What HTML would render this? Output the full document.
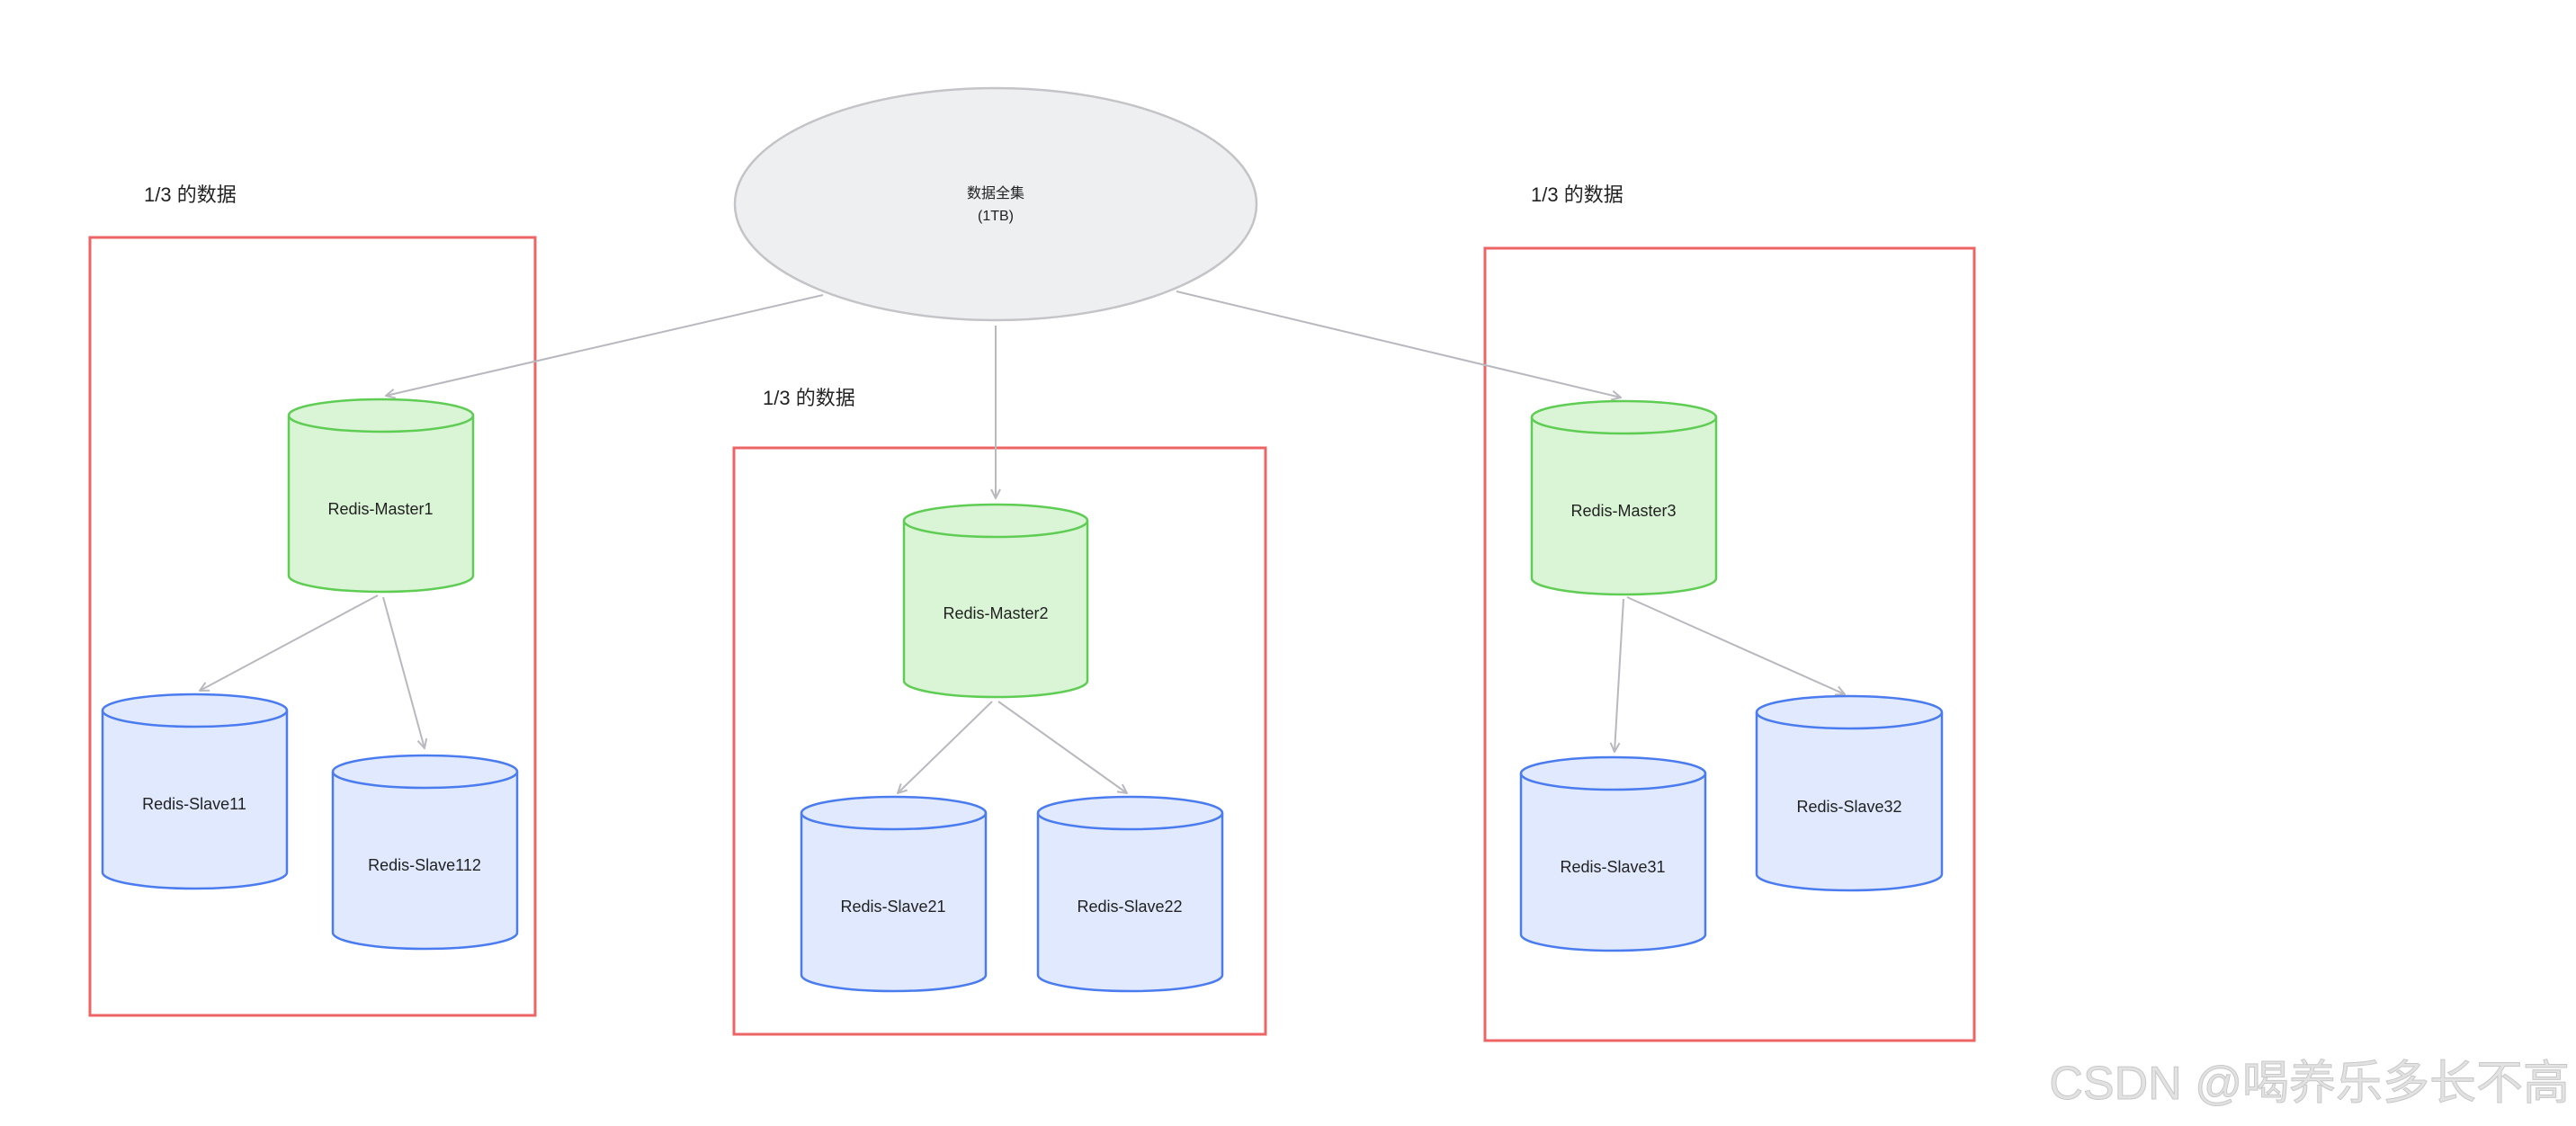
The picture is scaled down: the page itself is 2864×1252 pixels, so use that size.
<!DOCTYPE html>
<html><head><meta charset="utf-8"><style>
html,body{margin:0;padding:0;background:#fff;}
svg{display:block;}
text{font-family:"Liberation Sans","Noto Sans CJK SC",sans-serif;fill:#222;}
</style></head><body>
<svg width="2864" height="1252" viewBox="0 0 2864 1252" xmlns="http://www.w3.org/2000/svg">
<defs>
<marker id="a" viewBox="0 0 12 12" refX="11" refY="6" markerWidth="12" markerHeight="12" markerUnits="userSpaceOnUse" orient="auto">
<path d="M1,1 L11,6 L1,11" fill="none" stroke="#b8b8bf" stroke-width="2"/>
</marker>
</defs>
<!-- red boxes -->
<g fill="none" stroke="#ee6464" stroke-width="3">
<rect x="100" y="264" width="495" height="865"/>
<rect x="816" y="498" width="591" height="652"/>
<rect x="1651" y="276" width="544" height="881"/>
</g>
<g font-size="22">
<text x="160" y="224">1/3 的数据</text>
<text x="848" y="450">1/3 的数据</text>
<text x="1702" y="224">1/3 的数据</text>
</g>
<!-- ellipse -->
<ellipse cx="1107" cy="227" rx="290" ry="129" fill="#eeeff1" stroke="#c4c4c8" stroke-width="2.5"/>
<text x="1107" y="220" font-size="16" text-anchor="middle">数据全集</text>
<text x="1107" y="245" font-size="16" text-anchor="middle">(1TB)</text>
<!-- arrows -->
<g stroke="#b8b8bf" stroke-width="2" fill="none" marker-end="url(#a)">
<line x1="915" y1="328" x2="429" y2="440"/>
<line x1="1107" y1="362" x2="1107" y2="554"/>
<line x1="1308" y1="324" x2="1802" y2="442"/>
<line x1="420" y1="662" x2="222" y2="768"/>
<line x1="426" y1="664" x2="472" y2="832"/>
<line x1="1103" y1="780" x2="998" y2="882"/>
<line x1="1110" y1="780" x2="1253" y2="882"/>
<line x1="1805" y1="666" x2="1795" y2="836"/>
<line x1="1809" y1="664" x2="2051" y2="772"/>
</g>
<!-- cylinders -->
<g stroke-width="2.5">
<g fill="#daf5d6" stroke="#5fcd54">
<path d="M321,462 L321,640 A102.5,18 0 0 0 526,640 L526,462 A102.5,18 0 0 0 321,462 Z"/><path d="M321,462 A102.5,18 0 0 0 526,462" fill="none"/>
<path d="M1005,579 L1005,757 A102,18 0 0 0 1209,757 L1209,579 A102,18 0 0 0 1005,579 Z"/><path d="M1005,579 A102,18 0 0 0 1209,579" fill="none"/>
<path d="M1703,464 L1703,643 A102.5,18 0 0 0 1908,643 L1908,464 A102.5,18 0 0 0 1703,464 Z"/><path d="M1703,464 A102.5,18 0 0 0 1908,464" fill="none"/>
</g>
<g fill="#e0e9fd" stroke="#4a7cf0">
<path d="M114,790 L114,970 A102.5,18 0 0 0 319,970 L319,790 A102.5,18 0 0 0 114,790 Z"/><path d="M114,790 A102.5,18 0 0 0 319,790" fill="none"/>
<path d="M370,858 L370,1037 A102.5,18 0 0 0 575,1037 L575,858 A102.5,18 0 0 0 370,858 Z"/><path d="M370,858 A102.5,18 0 0 0 575,858" fill="none"/>
<path d="M891,904 L891,1084 A102.5,18 0 0 0 1096,1084 L1096,904 A102.5,18 0 0 0 891,904 Z"/><path d="M891,904 A102.5,18 0 0 0 1096,904" fill="none"/>
<path d="M1154,904 L1154,1084 A102.5,18 0 0 0 1359,1084 L1359,904 A102.5,18 0 0 0 1154,904 Z"/><path d="M1154,904 A102.5,18 0 0 0 1359,904" fill="none"/>
<path d="M1691,860 L1691,1039 A102.5,18 0 0 0 1896,1039 L1896,860 A102.5,18 0 0 0 1691,860 Z"/><path d="M1691,860 A102.5,18 0 0 0 1896,860" fill="none"/>
<path d="M1953,792 L1953,972 A103,18 0 0 0 2159,972 L2159,792 A103,18 0 0 0 1953,792 Z"/><path d="M1953,792 A103,18 0 0 0 2159,792" fill="none"/>
</g>
</g>
<g font-size="18" text-anchor="middle">
<text x="423" y="572">Redis-Master1</text>
<text x="1107" y="688">Redis-Master2</text>
<text x="1805" y="574">Redis-Master3</text>
<text x="216" y="900">Redis-Slave11</text>
<text x="472" y="968">Redis-Slave112</text>
<text x="993" y="1014">Redis-Slave21</text>
<text x="1256" y="1014">Redis-Slave22</text>
<text x="1793" y="970">Redis-Slave31</text>
<text x="2056" y="903">Redis-Slave32</text>
</g>
<text x="2857" y="1222" font-size="52" text-anchor="end" style="fill:#e2e2e2" stroke="#c8c8c8" stroke-width="1">CSDN @喝养乐多长不高</text>
</svg>
</body></html>
